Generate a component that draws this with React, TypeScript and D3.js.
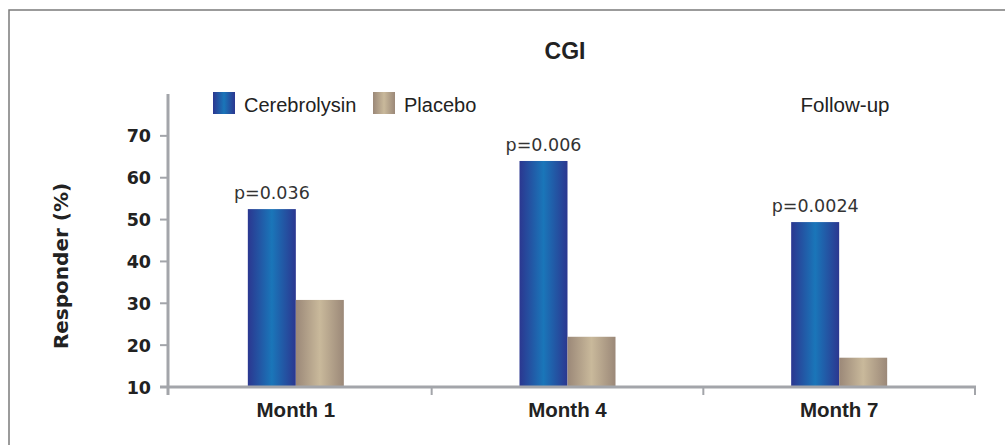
import * as d3 from "d3"

const categories = ["Month 1", "Month 4", "Month 7"]
const seriesNames = ["Cerebrolysin", "Placebo"]
const cerebrolysin = [52.5, 64, 49.4]
const placebo = [30.8, 22, 17]
const pValues = ["p=0.036", "p=0.006", "p=0.0024"]
const yTicks = [10, 20, 30, 40, 50, 60, 70]

const W = 1005
const H = 445
const AXIS = "#a3a5aa"
const TEXT = "#222"
const SANS = "'Liberation Sans', Arial, sans-serif"
const WIDE = "'DejaVu Sans', Verdana, sans-serif"

export default function App() {
  const x = d3.scaleBand<string>().domain(categories).range([160, 975])
  const y = d3.scaleLinear().domain([10, 80]).range([387, 94])
  const barW = 48
  const axisX = 168

  return (
    <svg
      width={W}
      height={H}
      style={{ position: "absolute", left: 0, top: 0, background: "#fff" }}
    >
      <defs>
        <linearGradient id="gBlue" x1="0%" x2="100%" y1="0%" y2="0%">
          <stop offset="0%" stopColor="#2b3790" />
          <stop offset="50%" stopColor="#1a76b9" />
          <stop offset="100%" stopColor="#2b3790" />
        </linearGradient>
        <linearGradient id="gTan" x1="0%" x2="100%" y1="0%" y2="0%">
          <stop offset="0%" stopColor="#9b8878" />
          <stop offset="50%" stopColor="#c9b99b" />
          <stop offset="100%" stopColor="#9b8878" />
        </linearGradient>
      </defs>

      {/* cadre */}
      <path d={`M9,${H} V10 H${W}`} fill="none" stroke="#7b7b7b" strokeWidth={1.5} />

      <text x={565} y={59} textAnchor="middle" fontFamily={SANS} fontWeight="bold" fontSize={23} fill={TEXT}>
        CGI
      </text>

      {/* légende */}
      {seriesNames.map((name, i) => {
        const lx = i === 0 ? 213 : 373
        return (
          <g key={name}>
            <rect x={lx} y={92} width={22} height={22} fill={i === 0 ? "url(#gBlue)" : "url(#gTan)"} />
            <text x={lx + 31} y={112} fontFamily={SANS} fontSize={20} fill={TEXT}>
              {name}
            </text>
          </g>
        )
      })}
      <text x={845} y={112} textAnchor="middle" fontFamily={SANS} fontSize={20.5} fill={TEXT}>
        Follow-up
      </text>

      {/* barres */}
      {categories.map((c, i) => {
        const cx = (x(c) ?? 0) + x.bandwidth() / 2
        return (
          <g key={c}>
            <rect
              x={cx - barW}
              y={y(cerebrolysin[i])}
              width={barW}
              height={y(10) - y(cerebrolysin[i])}
              fill="url(#gBlue)"
            />
            <rect
              x={cx}
              y={y(placebo[i])}
              width={barW}
              height={y(10) - y(placebo[i])}
              fill="url(#gTan)"
            />
            <text
              x={cx - barW / 2}
              y={y(cerebrolysin[i]) - 10}
              textAnchor="middle"
              fontFamily={WIDE}
              fontSize={17.5}
              fill="#333"
            >
              {pValues[i]}
            </text>
            <text
              x={cx}
              y={417}
              textAnchor="middle"
              fontFamily={SANS}
              fontWeight="bold"
              fontSize={20.5}
              fill={TEXT}
            >
              {c}
            </text>
          </g>
        )
      })}

      {/* axe Y */}
      <line x1={axisX} x2={axisX} y1={y(80)} y2={395} stroke={AXIS} strokeWidth={3} />
      {yTicks.map((t) => (
        <g key={t}>
          <line x1={160} x2={axisX} y1={y(t)} y2={y(t)} stroke={AXIS} strokeWidth={2} />
          <text x={151} y={y(t) + 6.5} textAnchor="end" fontFamily={WIDE} fontWeight="bold" fontSize={17.5} fill={TEXT}>
            {t}
          </text>
        </g>
      ))}
      <text
        transform={`translate(68,266) rotate(-90)`}
        textAnchor="middle"
        fontFamily={WIDE}
        fontWeight="bold"
        fontSize={20}
        fill={TEXT}
      >
        Responder (%)
      </text>

      {/* axe X */}
      <line x1={160} x2={976} y1={y(10)} y2={y(10)} stroke={AXIS} strokeWidth={3} />
      {categories.map((c) => {
        const bx = (x(c) ?? 0) + x.bandwidth()
        return <line key={c} x1={bx} x2={bx} y1={y(10)} y2={395} stroke={AXIS} strokeWidth={2} />
      })}
    </svg>
  )
}
